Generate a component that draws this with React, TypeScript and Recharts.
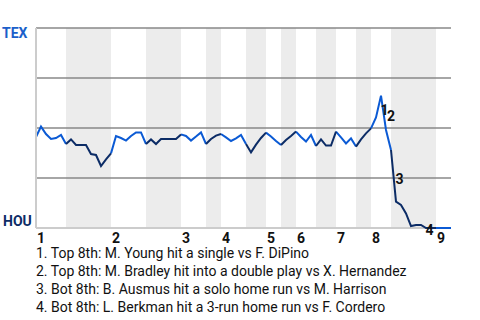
import {
  ComposedChart,
  Line,
  ReferenceArea,
  ReferenceDot,
  ReferenceLine,
  XAxis,
  YAxis,
} from "recharts";

// TEX win probability (%) after each play
const winProb = [
  45.5, 50.7, 47, 44.5, 45, 46.5, 42, 44.3, 41.5, 41.5,
  41.5, 37, 36.5, 31, 34.3, 37.3, 46, 45, 43.7, 46,
  47.8, 47.8, 42, 44.3, 42, 44.5, 44.5, 44.5, 44.5, 46.8,
  46, 43.7, 45.7, 47.8, 42, 44.5, 46.2, 47, 45.3, 43.5,
  44.8, 46.5, 42, 37.8, 41.7, 45, 47.7, 45.8, 43.5, 41.5,
  44, 46, 48.2, 45.5, 43.2, 46.5, 41, 44.3, 41.2, 41.2,
  48.2, 45.3, 42.3, 44.8, 40.7, 44.3, 47.3, 49.8, 55.3, 66.2,
  49, 39, 13.2, 11.5, 7.3, 1, 1.5, 1.5, 0, 0,
  0, 0, 0, 0,
];

// play index where each half inning starts
const topStarts = [0, 15, 29, 37, 46, 52, 60, 67, 80];
const botStarts = [6, 22, 34, 42, 49, 56, 64, 71];
const lastPlay = 83;
const inningLabels = ["1", "2", "3", "4", "5", "6", "7", "8", "9"];

// key plays (index of the point after the play)
const keyPlays = [69, 70, 72, 78];
const keyNotes = [
  "1. Top 8th: M. Young hit a single vs F. DiPino",
  "2. Top 8th: M. Bradley hit into a double play vs X. Hernandez",
  "3. Bot 8th: B. Ausmus hit a solo home run vs M. Harrison",
  "4. Bot 8th: L. Berkman hit a 3-run home run vs F. Cordero",
];

const texBlue = "#0b5ad4";
const houNavy = "#0c2c66";
const font = "Roboto, Arial, sans-serif";

const inBottom = (i: number) =>
  botStarts.some((b, k) => i >= b && i <= topStarts[k + 1]);
const inTop = (i: number) =>
  topStarts.some((t, k) => i >= t && i <= (k < botStarts.length ? botStarts[k] : lastPlay));

const rows = winProb.map((v, i) => ({
  i,
  top: inTop(i) ? v : null,
  bot: inBottom(i) ? v : null,
}));

const InningTick = ({ x, y, payload }: any) => {
  const idx = topStarts.indexOf(payload.value);
  return (
    <text x={x + 1} y={y + 13} fontFamily={font} fontWeight={700} fontSize={14} fill="#111">
      {inningLabels[idx]}
    </text>
  );
};

const TeamTick = ({ y, payload }: any) => {
  if (payload.value === 100)
    return (
      <text x={2} y={y + 10} fontFamily={font} fontWeight={700} fontSize={14} fill="#1b5fca">
        TEX
      </text>
    );
  if (payload.value === 0)
    return (
      <text x={3} y={y - 2} fontFamily={font} fontWeight={700} fontSize={14} fill={houNavy}>
        HOU
      </text>
    );
  return null;
};

const PlayMark = (label: string, shift: number) => (props: any) => {
  const vb = props.viewBox;
  const cx = vb.x + vb.width / 2;
  const cy = vb.y + vb.height / 2;
  return (
    <text x={cx + 2 + shift} y={cy + 8.5} fontFamily={font} fontWeight={700} fontSize={14} fill="#111">
      {label}
    </text>
  );
};

export default function App() {
  return (
    <div style={{ position: "absolute", left: 0, top: 0, width: 480, height: 320, background: "#fff" }}>
      <ComposedChart
        width={480}
        height={250}
        data={rows}
        margin={{ top: 28, right: 29, left: 0, bottom: 0 }}
      >
        <XAxis
          dataKey="i"
          type="number"
          domain={[0, lastPlay]}
          ticks={topStarts}
          tick={<InningTick />}
          tickLine={false}
          tickSize={0}
          interval={0}
          height={22}
          axisLine={false}
        />
        <YAxis
          type="number"
          domain={[0, 100]}
          ticks={[0, 25, 50, 75, 100]}
          tick={<TeamTick />}
          tickLine={false}
          width={36}
          axisLine={{ stroke: "#cccccc", strokeWidth: 2 }}
        />
        {botStarts.map((b, k) => (
          <ReferenceArea
            key={"band" + k}
            x1={b}
            x2={topStarts[k + 1]}
            y1={0}
            y2={100}
            fill="#ececec"
            fillOpacity={1}
            stroke="none"
          />
        ))}
        {[25, 50, 75, 100].map((v) => (
          <ReferenceLine key={v} y={v} stroke="#888888" strokeWidth={1.5} />
        ))}
        <ReferenceLine y={0} stroke="#cccccc" strokeWidth={2} />
        <Line
          dataKey="top"
          stroke={texBlue}
          strokeWidth={2}
          dot={false}
          connectNulls={false}
          isAnimationActive={false}
        />
        <Line
          dataKey="bot"
          stroke={houNavy}
          strokeWidth={2}
          dot={false}
          connectNulls={false}
          isAnimationActive={false}
        />
        {keyPlays.map((p, k) => (
          <ReferenceDot
            key={"play" + k}
            x={p - 0.5}
            y={(winProb[p - 1] + winProb[p]) / 2}
            r={1}
            fill="none"
            stroke="none"
            label={PlayMark(String(k + 1), k === 1 ? 1.5 : 0)}
          />
        ))}
      </ComposedChart>
      <div
        style={{
          position: "absolute",
          left: 36,
          top: 244,
          fontFamily: font,
          fontSize: 14,
          lineHeight: "18px",
          color: "#111",
        }}
      >
        {keyNotes.map((n) => (
          <div key={n}>{n}</div>
        ))}
      </div>
    </div>
  );
}
